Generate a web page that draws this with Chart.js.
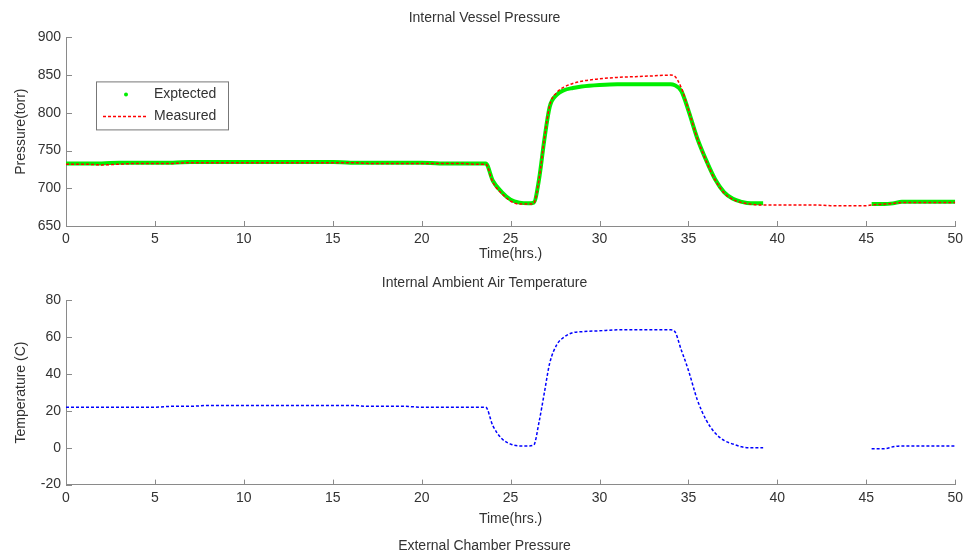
<!DOCTYPE html>
<html>
<head>
<meta charset="utf-8">
<script src="https://cdn.jsdelivr.net/npm/chart.js@4/dist/chart.umd.min.js"></script>
<style>
  html, body { margin: 0; padding: 0; background: #fff; overflow: hidden; }
  #wrap { position: relative; width: 968px; height: 552px; overflow: hidden; }
  canvas { position: absolute; left: 0; }
  #c1 { top: 0; }
  #c2 { top: 262px; }
</style>
</head>
<body>
<div id="wrap">
  <canvas id="c1" width="968" height="263"></canvas>
  <canvas id="c2" width="968" height="295"></canvas>
</div>
<script>
// ---- data ----
const hours = [0,1,2,3,4,5,6,7,8,9,10,11,12,13,14,15,16,17,18,19,20,21,22,23,
  23.6,24,24.5,25,25.5,26,26.3,
  26.6,26.9,27.2,27.6,28,28.5,29,
  30,31,32,33,34,
  34.2,34.6,35,35.5,36,36.5,37,37.5,38,38.5,39,39.2,
  40,41,42,43,44,45,
  45.3,46,46.5,47,48,49,50];

const expectedPressure = [733,733,733,734,734,734,734,735,735,735,735,735,735,735,735,735,734,734,734,734,734,733,733,733,
  733,710,695,685,681,680,681,
  712,765,808,824,830,833,835,
  837,838,838,838,838,
  837,829,803,766,737,712,695,686,682,680,680,680,
  null,null,null,null,null,null,
  679,679,680,682,682,682,682];

const measuredPressure = [732,732,731,732,733,733,733,734,734,734,734,734,734,734,734,734,734,733,733,733,733,733,733,732,
  732,708,693,683,679,679,680,
  712,766,810,827,834,839,842,
  845,847,848,849,850,
  849,833,804,766,736,711,694,685,681,679,678,678,
  678,678,678,677,677,677,
  678,679,680,681,681,681,681];

const ambientTemperature = [22,22,22,22,22,22,22.5,22.5,23,23,23,23,23,23,23,23,23,22.5,22.5,22.5,22,22,22,22,
  22,12,5,2,1,1,1.5,
  14,30,46,56,60,62.5,63,
  63.5,64,64,64,64,
  63.5,53,42,26,15,8,4,2,0.5,0,0,0,
  null,null,null,null,null,null,
  -0.5,-0.5,0.5,1,1,1,1];

const pressureTicks = [650, 900, 50];   // min, max, step
const temperatureTicks = [-20, 80, 20];
const timeTicks = [0, 50, 5];

const toPoints = vals => hours.map((h, i) => ({ x: h, y: vals[i] }));

const FONT = "'Liberation Sans', Arial, Helvetica, sans-serif";
const TXT = '#333';
const AXIS = '#8a8a8a';

// inward tick marks drawn through the chart's own scales
const inwardTicks = {
  id: 'inwardTicks',
  afterDraw(chart) {
    const { ctx, chartArea: a, scales: { x, y } } = chart;
    ctx.save();
    ctx.strokeStyle = AXIS;
    ctx.lineWidth = 1;
    x.ticks.forEach(t => {
      const px = Math.round(x.getPixelForValue(t.value)) + 0.5;
      ctx.beginPath(); ctx.moveTo(px, a.bottom); ctx.lineTo(px, a.bottom - 5); ctx.stroke();
    });
    y.ticks.forEach(t => {
      const py = Math.round(y.getPixelForValue(t.value)) + 0.5;
      ctx.beginPath(); ctx.moveTo(a.left, py); ctx.lineTo(a.left + 6, py); ctx.stroke();
    });
    ctx.restore();
  }
};

// boxed legend inside the plot area
const boxLegend = {
  id: 'boxLegend',
  afterDraw(chart, args, opts) {
    if (!opts || !opts.show) return;
    const { ctx, chartArea: a } = chart;
    const left = a.left + opts.dx, top = a.top + opts.dy, w = opts.w, h = opts.h;
    ctx.save();
    ctx.fillStyle = '#fff';
    ctx.fillRect(left, top, w, h);
    ctx.strokeStyle = '#777';
    ctx.lineWidth = 1;
    ctx.strokeRect(left + 0.5, top + 0.5, w, h);
    ctx.font = '14px ' + FONT;
    ctx.fillStyle = TXT;
    ctx.textBaseline = 'middle';
    chart.data.datasets.forEach((ds, i) => {
      const cy = top + 13 + i * 22;
      if (ds.legendStyle === 'dot') {
        ctx.fillStyle = ds.borderColor;
        ctx.beginPath(); ctx.arc(left + 30, cy, 2, 0, Math.PI * 2); ctx.fill();
      } else {
        ctx.strokeStyle = ds.borderColor;
        ctx.lineWidth = ds.borderWidth;
        ctx.setLineDash(ds.borderDash || []);
        ctx.beginPath(); ctx.moveTo(left + 7, cy); ctx.lineTo(left + 52, cy); ctx.stroke();
        ctx.setLineDash([]);
      }
      ctx.fillStyle = TXT;
      ctx.fillText(ds.label, left + 58, cy);
    });
    ctx.restore();
  }
};

function makeOptions(cfg) {
  return {
    responsive: false,
    animation: false,
    devicePixelRatio: 1,
    layout: { padding: { left: 13, right: 12, top: 0, bottom: 0 } },
    plugins: {
      legend: { display: false },
      tooltip: { enabled: false },
      title: {
        display: true, text: cfg.title, color: TXT,
        font: { family: FONT, size: 14, weight: 'normal' },
        padding: cfg.titlePad
      },
      subtitle: cfg.subtitle ? {
        display: true, text: cfg.subtitle, position: 'bottom', color: TXT,
        font: { family: FONT, size: 14, weight: 'normal' },
        padding: cfg.subPad
      } : { display: false },
      boxLegend: cfg.legend || { show: false }
    },
    scales: {
      x: {
        type: 'linear', min: timeTicks[0], max: timeTicks[1],
        grid: { display: false, drawTicks: false },
        border: { display: true, color: AXIS },
        ticks: { stepSize: timeTicks[2], color: TXT, padding: 5, font: { family: FONT, size: 14 } },
        title: { display: true, text: 'Time(hrs.)', color: TXT, padding: 0, font: { family: FONT, size: 14 } },
        afterFit: s => { s.height = cfg.xHeight; }
      },
      y: {
        type: 'linear', min: cfg.yTicks[0], max: cfg.yTicks[1],
        grid: { display: false, drawTicks: false },
        border: { display: true, color: AXIS },
        ticks: { stepSize: cfg.yTicks[2], color: TXT, padding: 5, font: { family: FONT, size: 14 } },
        title: { display: true, text: cfg.yTitle, color: TXT, padding: 0, font: { family: FONT, size: 14 } },
        afterFit: s => { s.width = 53; }
      }
    }
  };
}

new Chart(document.getElementById('c1'), {
  type: 'line',
  data: {
    datasets: [
      { label: 'Exptected', data: toPoints(expectedPressure), borderColor: '#00ee00', borderWidth: 4,
        pointRadius: 0, cubicInterpolationMode: 'monotone', spanGaps: false, legendStyle: 'dot', order: 2 },
      { label: 'Measured', data: toPoints(measuredPressure), borderColor: '#ff0000', borderWidth: 1.5,
        borderDash: [3, 2], pointRadius: 0, cubicInterpolationMode: 'monotone', spanGaps: false, order: 1 }
    ]
  },
  options: makeOptions({
    title: 'Internal Vessel Pressure', titlePad: { top: 10, bottom: 10.6 },
    yTicks: pressureTicks, yTitle: 'Pressure(torr)', xHeight: 37,
    legend: { show: true, dx: 30, dy: 44, w: 132, h: 48 }
  }),
  plugins: [inwardTicks, boxLegend]
});

new Chart(document.getElementById('c2'), {
  type: 'line',
  data: {
    datasets: [
      { label: 'Temperature', data: toPoints(ambientTemperature), borderColor: '#0000ff', borderWidth: 1.5,
        borderDash: [3, 2], pointRadius: 0, cubicInterpolationMode: 'monotone', spanGaps: false }
    ]
  },
  options: makeOptions({
    title: 'Internal Ambient Air Temperature', titlePad: { top: 12.8, bottom: 8.8 },
    subtitle: 'External Chamber Pressure', subPad: { top: 9.8, bottom: 2.8 },
    yTicks: temperatureTicks, yTitle: 'Temperature (C)', xHeight: 43
  }),
  plugins: [inwardTicks, boxLegend]
});
</script>
</body>
</html>
